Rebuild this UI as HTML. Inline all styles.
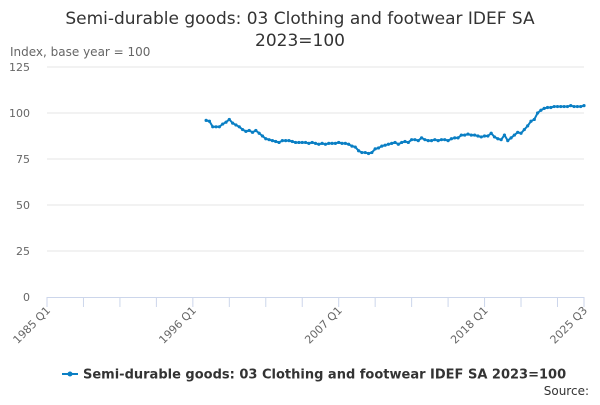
<!DOCTYPE html>
<html><head><meta charset="utf-8"><style>
body{margin:0;background:#fff;font-family:"Liberation Sans","DejaVu Sans",sans-serif;}
svg text{font-family:"DejaVu Sans","Liberation Sans",sans-serif;}
</style></head><body>
<svg id="c" width="600" height="400">
<text x="300" y="24" text-anchor="middle" font-size="17" fill="#333">Semi-durable goods: 03 Clothing and footwear IDEF SA</text>
<text x="300" y="46" text-anchor="middle" font-size="17" fill="#333">2023=100</text>
<text x="10" y="56" font-size="12" fill="#666">Index, base year = 100</text>
<g id="grid"></g><g id="xax"></g><g id="series"></g>
<g>
<line x1="62" y1="374" x2="78" y2="374" stroke="#0a7fc4" stroke-width="2"/>
<circle cx="70" cy="374" r="2.5" fill="#0a7fc4"/>
<text x="83" y="378.5" font-size="13" font-weight="bold" fill="#333">Semi-durable goods: 03 Clothing and footwear IDEF SA 2023=100</text>
</g>
<text x="589" y="395" text-anchor="end" font-size="12" fill="#333">Source:</text>
</svg>
<script>
const yTicks=[0,25,50,75,100,125];
const xTickLabels=["1985 Q1","1996 Q1","2007 Q1","2018 Q1","2025 Q3"];
const xTickIdx=[0,44,88,132,162];
const startIdx=48;
const values=[96,95.5,92.5,92.5,92.5,94,95,96.5,94.5,93.5,92.5,91,90,90.5,89.5,90.5,89,87.5,86,85.5,85,84.5,84,85,85,85,84.5,84,84,84,84,83.5,84,83.5,83,83.5,83,83.5,83.5,83.5,84,83.5,83.5,83,82,81.5,79.5,78.5,78.5,78,78.5,80.5,81,82,82.5,83,83.5,84,83,84,84.5,84,85.5,85.5,85,86.5,85.5,85,85,85.5,85,85.5,85.5,85,86,86.5,86.5,88,88,88.5,88,88,87.5,87,87.5,87.5,89,87,86,85.5,88,85,86.5,88,89.5,89,91,93,95.5,96.5,100,101.5,102.5,103,103,103.5,103.5,103.5,103.5,103.5,104,103.5,103.5,103.5,104];
const NS="http://www.w3.org/2000/svg";
const x0=47,x1=584,y0=297,y1=67;
const xs=i=>x0+(i/162)*(x1-x0);
const ys=v=>y0-(v/125)*(y0-y1);
function mk(t,a,p){const e=document.createElementNS(NS,t);for(const k in a)e.setAttribute(k,a[k]);p.appendChild(e);return e;}
const grid=document.getElementById('grid');
yTicks.forEach(t=>{
 if(t>0) mk('line',{x1:x0,x2:x1,y1:ys(t),y2:ys(t),stroke:'#e6e6e6','stroke-width':1},grid);
 const tx=mk('text',{x:30,y:ys(t)+4,'text-anchor':'end','font-size':11,fill:'#666'},grid);
 tx.textContent=t;
 
 
});
const xax=document.getElementById('xax');
mk('line',{x1:x0,x2:x1,y1:y0+0.5,y2:y0+0.5,stroke:'#ccd6eb'},xax);
for(let i=0;i<=162;i+=11){mk('line',{x1:xs(i),x2:xs(i),y1:y0,y2:y0+10,stroke:'#ccd6eb'},xax);}
mk('line',{x1:xs(162),x2:xs(162),y1:y0,y2:y0+10,stroke:'#ccd6eb'},xax);
xTickLabels.forEach((l,k)=>{
 const x=xs(xTickIdx[k]);
 const tx=mk('text',{x:x+4,y:y0+14,'text-anchor':'end','font-size':11,fill:'#666',transform:`rotate(-45 ${x+4} ${y0+14})`},xax);
 tx.textContent=l;
 
 
});
const s=document.getElementById('series');
const pts=values.map((v,i)=>[xs(startIdx+i),ys(v)]);
const pl=mk('polyline',{points:pts.map(p=>p.join(',')).join(' '),fill:'none',stroke:'#0a7fc4','stroke-width':2},s);


pts.forEach(p=>{const c=mk('circle',{cx:p[0],cy:p[1],r:1.6,fill:'#0a7fc4'},s);
 
 });
</script>
</body></html>
